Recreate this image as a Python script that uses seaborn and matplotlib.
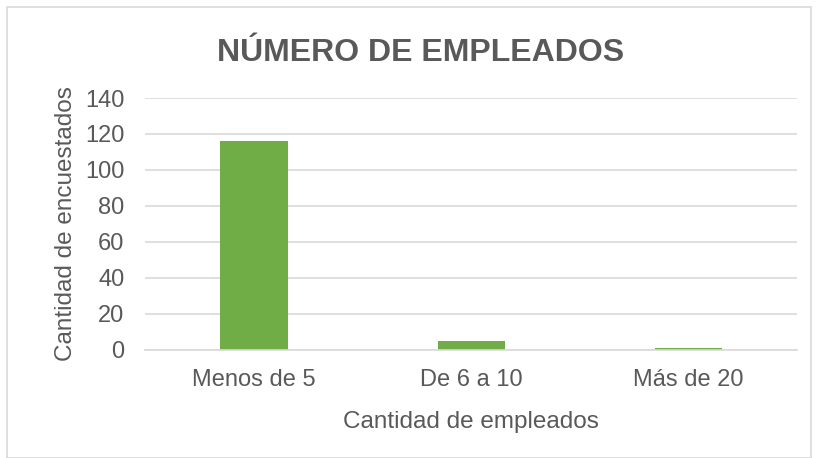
import matplotlib
matplotlib.use("Agg")
import matplotlib.pyplot as plt
import seaborn as sns
import pandas as pd

categories = ["Menos de 5", "De 6 a 10", "Más de 20"]
values = [116, 5, 1]
yticks = [0, 20, 40, 60, 80, 100, 120, 140]

sns.set_theme(style="white")
plt.rcParams['font.family'] = ['Liberation Sans', 'DejaVu Sans']

df = pd.DataFrame({"cat": categories, "val": values})
fig = plt.figure(figsize=(8.16, 4.58), dpi=100)
ax = fig.add_axes([0.178, 0.236, 0.799, 0.55])
sns.barplot(data=df, x="cat", y="val", color="#70AD47", width=0.31, ax=ax,
            saturation=1, linewidth=0)
ax.set_ylim(0, 140)
ax.set_yticks(yticks)
ax.set_xlim(-0.5, 2.5)
ax.grid(axis="y", color="#D9D9D9", linewidth=1.2)
ax.set_axisbelow(True)
for s in ["top", "right", "left"]:
    ax.spines[s].set_visible(False)
ax.spines["bottom"].set_color("#D9D9D9")
ax.spines["bottom"].set_linewidth(1.2)
ax.tick_params(axis="y", length=0, labelsize=17, colors="#595959", pad=15)
ax.tick_params(axis="x", length=0, labelsize=17, colors="#595959", pad=14)
ax.set_xlabel("Cantidad de empleados", fontsize=17.5, color="#595959", labelpad=14)
ax.set_ylabel("Cantidad de encuestados", fontsize=17.5, color="#595959", labelpad=6)
fig.suptitle("NÚMERO DE EMPLEADOS", fontsize=23, fontweight="bold", color="#595959",
             x=0.515, y=0.918)
fig.patches.append(plt.Rectangle((0.009, 0.0), 0.985, 0.985, transform=fig.transFigure,
                                 fill=False, edgecolor="#D9D9D9", linewidth=1.2))
fig.savefig("out.png", dpi=100)
